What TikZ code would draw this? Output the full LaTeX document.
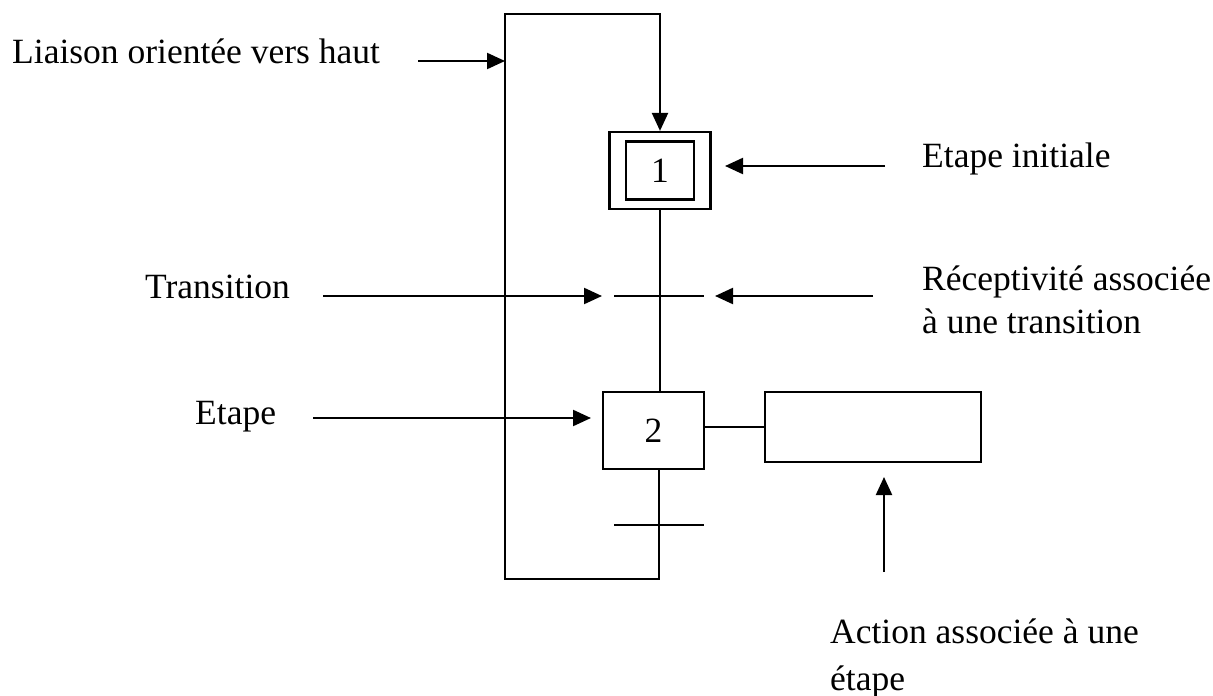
\documentclass[tikz,border=0pt]{standalone}
\usepackage{fontspec}
\setmainfont{Liberation Serif}
\usetikzlibrary{arrows.meta}

\begin{document}
\begin{tikzpicture}[
  x=1pt,
  y=-1pt,
  line join=miter,
  every node/.style={font=\fontsize{35.5}{42}\selectfont},
  link/.style={draw=black,line width=2.2pt},
  pointer/.style={draw=black,line width=2.2pt,-{Triangle[length=18pt,width=16pt]}},
  etapebox/.style={draw=black,line width=2.2pt,rectangle,inner sep=0pt,minimum width=101pt,minimum height=77pt},
  legend/.style={anchor=base west,inner sep=0pt}
]
  \useasboundingbox (0,0) rectangle (1213,696);

  % Steps of the grafcet, initial step doubled.
  \node[etapebox] (init) at (660,170.5) {};
  \node[etapebox,minimum width=68pt,minimum height=58pt] (initin) at (init) {1};
  \node[etapebox] (e2) at (653.5,430.5) {2};
  \node[etapebox,minimum width=216pt,minimum height=70pt] (act) at (873,427) {};

  % Transitions and the loop corners.
  \coordinate (t1) at (659,296);
  \coordinate (t2) at (659,525);
  \coordinate (loopbl) at (505,579);
  \coordinate (looptl) at (505,14);

  \draw[link] (init.south) -- (init.south |- e2.north);
  \draw[link] ([xshift=-45pt]t1) -- ([xshift=45pt]t1);
  \draw[link] ([xshift=-45pt]t2) -- ([xshift=45pt]t2);
  \draw[link] (e2.east |- act.west) -- (act.west);
  \draw[pointer] (t2 |- e2.south) -- (t2 |- loopbl) -- (loopbl) -- (looptl)
    -- (init.north |- looptl) -- (init.north);

  % Legends.
  \node[legend] (liaison) at (12,63) {Liaison orientée vers haut};
  \node[legend] (initlbl) at (922,167) {Etape initiale};
  \node[legend] (translbl) at (145,298) {Transition};
  \node[legend] (recep) at (922,290) {Réceptivité associée};
  \node[legend] (recep2) at (922,333) {à une transition};
  \node[legend] (etapelbl) at (195,424) {Etape};
  \node[legend] (actlbl) at (830,643) {Action associée à une};
  \node[legend] (actlbl2) at (830,690) {étape};

  % Pointers from the legends.
  \coordinate (liaisonfrom) at (418,61);
  \coordinate (initfrom) at (885,166);
  \coordinate (initto) at (725,166);
  \coordinate (transfrom) at (323,296);
  \coordinate (transto) at (602,296);
  \coordinate (recepfrom) at (873,296);
  \coordinate (recepto) at (715,296);
  \coordinate (etapefrom) at (313,418);
  \coordinate (etapeto) at (591,418);
  \coordinate (actfrom) at (884,572);
  \coordinate (actto) at (884,477);

  \draw[pointer] (liaisonfrom) -- (liaisonfrom -| looptl);
  \draw[pointer] (initfrom) -- (initto);
  \draw[pointer] (transfrom) -- (transto);
  \draw[pointer] (recepfrom) -- (recepto);
  \draw[pointer] (etapefrom) -- (etapeto);
  \draw[pointer] (actfrom) -- (actto);
\end{tikzpicture}
\end{document}
